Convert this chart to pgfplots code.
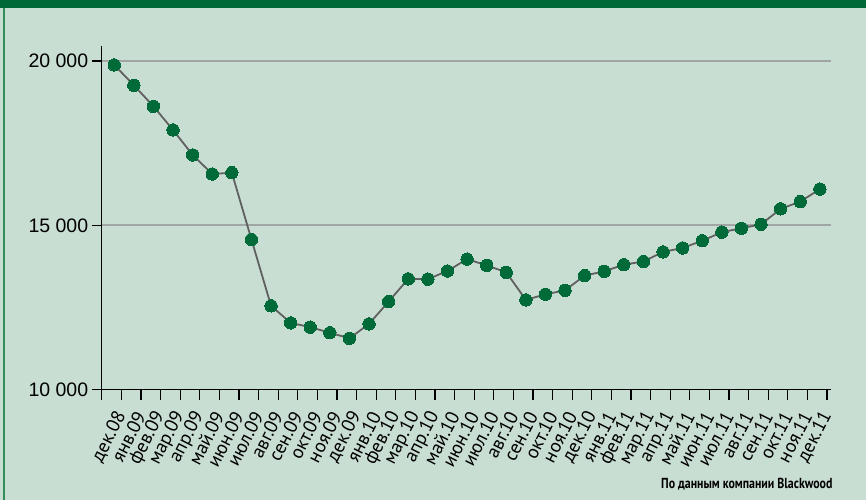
\documentclass[border=0pt]{standalone}
\usepackage{fontspec}
\setmainfont{Liberation Sans}
\newfontfamily\ptsans{PT Sans}
\newfontfamily\srcfont[FakeStretch=0.82]{PT Sans}
\usepackage{pgfplots}
\pgfplotsset{compat=1.18}
\definecolor{bg}{RGB}{201,222,211}
\definecolor{topgreen}{RGB}{0,104,55}
\definecolor{leftgreen}{RGB}{52,140,88}
\definecolor{markgreen}{RGB}{0,106,56}
\definecolor{linegray}{RGB}{96,96,96}
\definecolor{gridgray}{RGB}{160,166,163}
\pgfplotstableread{
x y
0 19880
1 19260
2 18620
3 17900
4 17140
5 16560
6 16600
7 14570
8 12550
9 12030
10 11900
11 11730
12 11560
13 12000
14 12680
15 13370
16 13360
17 13610
18 13970
19 13780
20 13570
21 12730
22 12900
23 13020
24 13470
25 13600
26 13800
27 13900
28 14190
29 14310
30 14530
31 14790
32 14910
33 15030
34 15500
35 15720
36 16100
}\datatable
\begin{document}
\begin{tikzpicture}[x=1pt,y=1pt]
\fill[bg] (0,0) rectangle (866,500);
\fill[topgreen] (0,491.7) rectangle (866,500);
\fill[leftgreen] (3,0) rectangle (4.7,491.7);
\path[use as bounding box] (0,0) rectangle (866,500);
\begin{axis}[
  at={(101.7pt,110.4pt)}, anchor=south west,
  scale only axis, width=729.3pt, height=343.6pt,
  xmin=-0.64, xmax=36.57,
  ymin=10000, ymax=20456,
  scaled y ticks=false,
  axis x line=bottom, axis y line=left,
  axis line style={-, black, line width=1.2pt},
  tick align=outside,
  major tick length=10pt,
  minor tick length=10pt,
  ytick={10000,15000,20000},
  yticklabels={10 000,15 000,20 000},
  yticklabel style={font=\fontsize{19.5}{21}\selectfont},
  ytick style={black, line width=1.2pt},
  ymajorgrids,
  grid style={gridgray, line width=1.6pt},
  xtick={0,...,36},
  major x tick style={draw=none},
  minor xtick={-0.64,0.36,...,36.4},
  minor x tick style={black, line width=1.2pt},
  xticklabels={дек.08,янв.09,фев.09,мар.09,апр.09,май.09,июн.09,июл.09,авг.09,сен.09,окт.09,ноя.09,дек.09,янв.10,фев.10,мар.10,апр.10,май.10,июн.10,июл.10,авг.10,сен.10,окт.10,ноя.10,дек.10,янв.11,фев.11,мар.11,апр.11,май.11,июн.11,июл.11,авг.11,сен.11,окт.11,ноя.11,дек.11},
  xticklabel style={font=\ptsans\fontsize{19}{20}\selectfont, inner sep=0pt, xshift=7pt, yshift=-13pt, rotate=63, anchor=east},
  clip=false,
]
\addplot[linegray, line width=1.8pt, mark=*, mark size=6.2pt, mark options={draw=markgreen, line width=0pt, fill=markgreen}] table[x=x,y=y] {\datatable};
\end{axis}
\node[anchor=base east, inner sep=0pt, font=\srcfont\bfseries\fontsize{14.5}{15}\selectfont] at (832.7,12) {По данным компании Blackwood};
\end{tikzpicture}
\end{document}
